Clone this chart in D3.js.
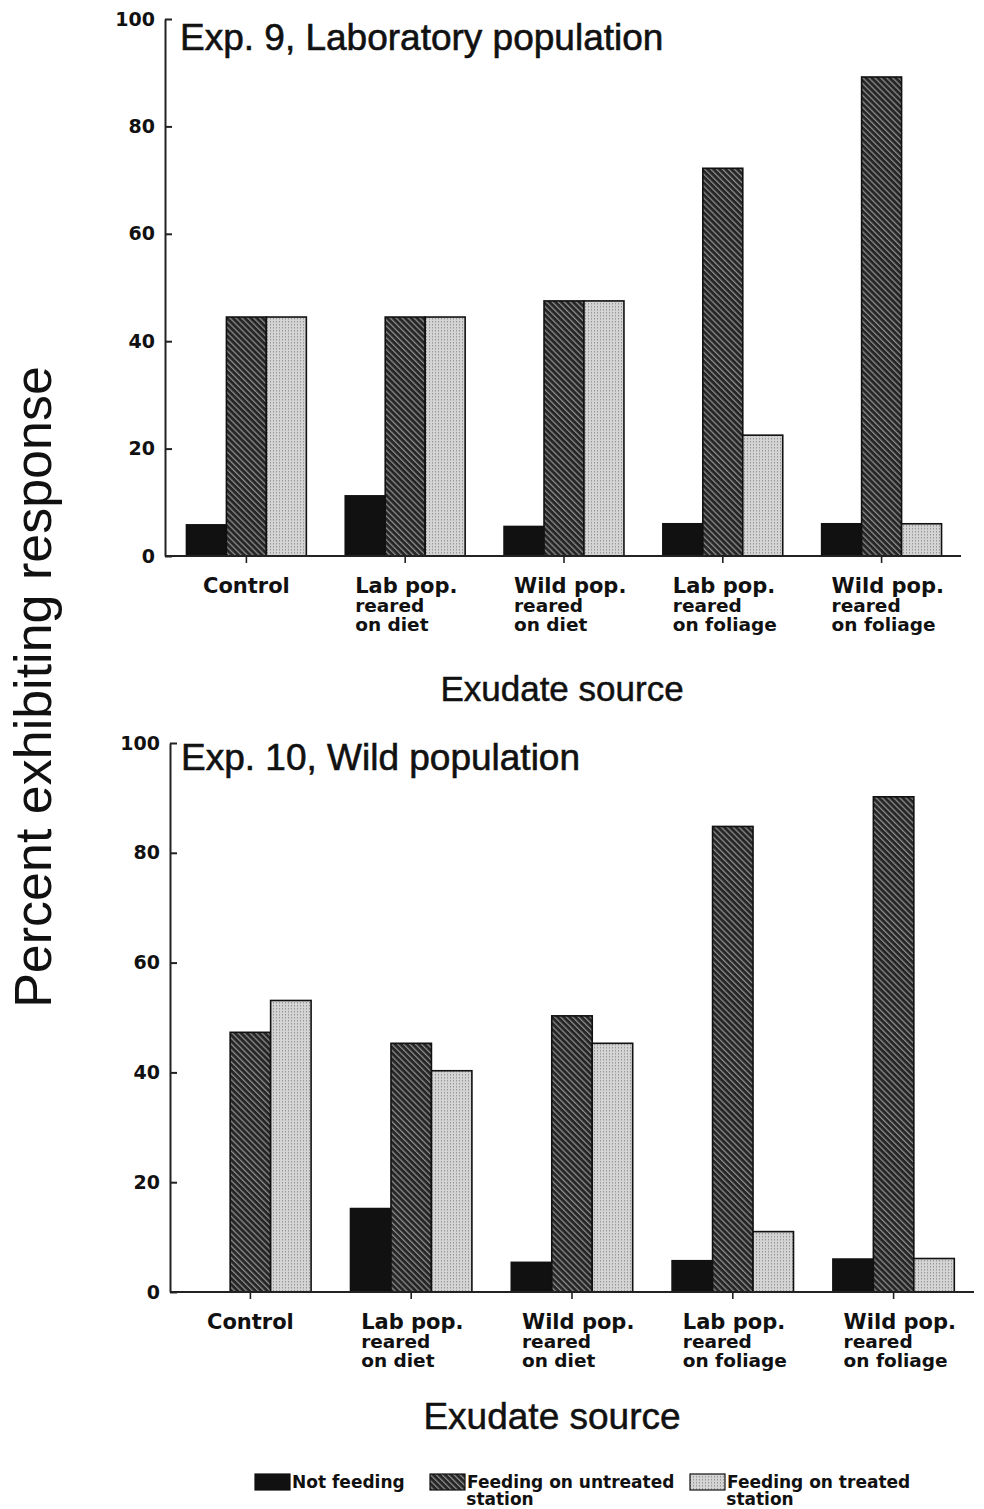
<!DOCTYPE html>
<html>
<head>
<meta charset="utf-8">
<script src="https://cdn.jsdelivr.net/npm/d3@7"></script>
<style>
  body { margin: 0; background: #fff; }
  svg { display: block; }
</style>
</head>
<body>
<div id="chart"></div>
<script>
// data
const categories = ['Control', 'Lab diet', 'Wild diet', 'Lab foliage', 'Wild foliage'];
const categoryLines = [
	['Control'],
	['Lab pop.', 'reared', 'on diet'],
	['Wild pop.', 'reared', 'on diet'],
	['Lab pop.', 'reared', 'on foliage'],
	['Wild pop.', 'reared', 'on foliage']
];
const series = ['Not feeding', 'Feeding on untreated station', 'Feeding on treated station'];
const exp9NotFeeding = [5.8, 11.2, 5.5, 6, 6];
const exp9Untreated = [44.5, 44.5, 47.5, 72.2, 89.2];
const exp9Treated = [44.5, 44.5, 47.5, 22.5, 6];
const exp10NotFeeding = [0, 15.2, 5.4, 5.7, 6];
const exp10Untreated = [47.3, 45.3, 50.3, 84.8, 90.2];
const exp10Treated = [53.1, 40.3, 45.3, 11, 6.1];
const yTicks = [0, 20, 40, 60, 80, 100];

const width = 984;
const height = 1509;
const boldFont = '"DejaVu Sans", Verdana, sans-serif';
const plainFont = '"Liberation Sans", Arial, sans-serif';

const svg = d3.select('#chart')
	.append('svg')
	.attr('width', width)
	.attr('height', height);

const defs = svg.append('defs');

// diagonal hatch (dark)
const hatch = defs.append('pattern')
	.attr('id', 'hatch')
	.attr('patternUnits', 'userSpaceOnUse')
	.attr('width', 4.2)
	.attr('height', 4.2)
	.attr('patternTransform', 'rotate(-45)');
hatch.append('rect').attr('width', 4.2).attr('height', 4.2).attr('fill', '#262626');
hatch.append('rect').attr('width', 1.3).attr('height', 4.2).attr('fill', '#8a8a8a');

// stipple (light)
const dots = defs.append('pattern')
	.attr('id', 'dots')
	.attr('patternUnits', 'userSpaceOnUse')
	.attr('width', 3)
	.attr('height', 3);
dots.append('rect').attr('width', 3).attr('height', 3).attr('fill', '#d4d4d4');
dots.append('rect').attr('width', 1).attr('height', 1.5).attr('fill', '#979797');

const fills = ['#111', 'url(#hatch)', 'url(#dots)'];

const panels = [
	{ title: 'Exp. 9, Laboratory population', values: [exp9NotFeeding, exp9Untreated, exp9Treated],
	  x0: 167, x1: 961, yAxisX: 165, yBottom: 556, yTop: 19, titleX: 180, titleY: 50, xLabelX: 562, xLabelY: 701, xLabelSize: 35 },
	{ title: 'Exp. 10, Wild population', values: [exp10NotFeeding, exp10Untreated, exp10Treated],
	  x0: 170, x1: 974, yAxisX: 170, yBottom: 1292, yTop: 743, titleX: 181, titleY: 770, xLabelX: 552, xLabelY: 1429, xLabelSize: 37 }
];

panels.forEach(p => {
	const g = svg.append('g');

	const x = d3.scaleBand()
		.domain(categories)
		.range([p.x0, p.x1])
		.paddingInner(0.245)
		.paddingOuter(0.1225);

	const xs = d3.scaleBand()
		.domain(series)
		.range([0, x.bandwidth()]);

	const y = d3.scaleLinear()
		.domain([0, 100])
		.range([p.yBottom, p.yTop]);

	// bars
	series.forEach((s, si) => {
		g.append('g')
			.selectAll('rect')
			.data(categories)
			.join('rect')
			.attr('x', c => x(c) + xs(s))
			.attr('y', (c, i) => y(p.values[si][i]))
			.attr('width', xs.bandwidth())
			.attr('height', (c, i) => y(0) - y(p.values[si][i]))
			.attr('fill', fills[si])
			.attr('stroke', (c, i) => p.values[si][i] > 0 ? '#111' : 'none')
			.attr('stroke-width', 1.6);
	});

	// y axis, ticks pointing inward
	const yAxis = g.append('g')
		.attr('transform', `translate(${p.yAxisX},0)`)
		.call(d3.axisLeft(y).tickValues(yTicks).tickSizeInner(-7).tickSizeOuter(0).tickPadding(10));
	yAxis.select('.domain').attr('stroke', '#222').attr('stroke-width', 2);
	yAxis.selectAll('.tick line').attr('stroke', '#222').attr('stroke-width', 2);
	yAxis.selectAll('.tick text')
		.attr('fill', '#111')
		.style('font-family', boldFont)
		.style('font-weight', 'bold')
		.style('font-size', '19px');

	// x axis
	const xAxis = g.append('g')
		.attr('transform', `translate(0,${p.yBottom})`)
		.call(d3.axisBottom(x).tickSizeInner(7).tickSizeOuter(0).tickFormat(''));
	xAxis.select('.domain')
		.attr('d', `M${p.yAxisX},0H${p.x1}`)
		.attr('stroke', '#222').attr('stroke-width', 2);
	xAxis.selectAll('.tick line').attr('stroke', '#222').attr('stroke-width', 1.6);

	// category labels
	categories.forEach((c, i) => {
		const lines = categoryLines[i];
		const cx = x(c) + x.bandwidth() / 2;
		const multi = lines.length > 1;
		const t = g.append('text')
			.attr('y', p.yBottom + 37)
			.attr('text-anchor', multi ? 'start' : 'middle')
			.attr('fill', '#111')
			.style('font-family', boldFont)
			.style('font-weight', 'bold');
		lines.forEach((l, li) => {
			t.append('tspan')
				.attr('x', multi ? cx - 50 : cx)
				.attr('dy', li === 0 ? 0 : 19)
				.style('font-size', li === 0 ? '21px' : '18.5px')
				.text(l);
		});
	});

	// panel title
	g.append('text')
		.attr('x', p.titleX)
		.attr('y', p.titleY)
		.attr('fill', '#111')
		.attr('stroke', '#111')
		.attr('stroke-width', 0.6)
		.style('font-family', plainFont)
		.style('font-size', '37px')
		.text(p.title);

	// x axis title
	g.append('text')
		.attr('x', p.xLabelX)
		.attr('y', p.xLabelY)
		.attr('text-anchor', 'middle')
		.attr('fill', '#111')
		.attr('stroke', '#111')
		.attr('stroke-width', 0.5)
		.style('font-family', plainFont)
		.style('font-size', p.xLabelSize + 'px')
		.text('Exudate source');
});

// shared y title
svg.append('text')
	.attr('transform', 'translate(51,687) rotate(-90)')
	.attr('text-anchor', 'middle')
	.attr('fill', '#111')
	.style('font-family', plainFont)
	.style('font-size', '52px')
	.text('Percent exhibiting response');

// legend
const legendX = [255, 430, 690];
const legendLines = [['Not feeding'], ['Feeding on untreated', 'station'], ['Feeding on treated', 'station']];
const legend = svg.append('g');
series.forEach((s, i) => {
	legend.append('rect')
		.attr('x', legendX[i])
		.attr('y', 1474)
		.attr('width', 35)
		.attr('height', 16)
		.attr('fill', fills[i])
		.attr('stroke', '#111')
		.attr('stroke-width', 1.2);
	const t = legend.append('text')
		.attr('fill', '#111')
		.style('font-family', boldFont)
		.style('font-weight', 'bold')
		.style('font-size', '17px');
	t.append('tspan')
		.attr('x', legendX[i] + 37)
		.attr('y', 1488)
		.text(legendLines[i][0]);
	if (legendLines[i][1]) {
		t.append('tspan')
			.attr('x', legendX[i] + 70)
			.attr('y', 1505)
			.attr('text-anchor', 'middle')
			.text(legendLines[i][1]);
	}
});
</script>
</body>
</html>
